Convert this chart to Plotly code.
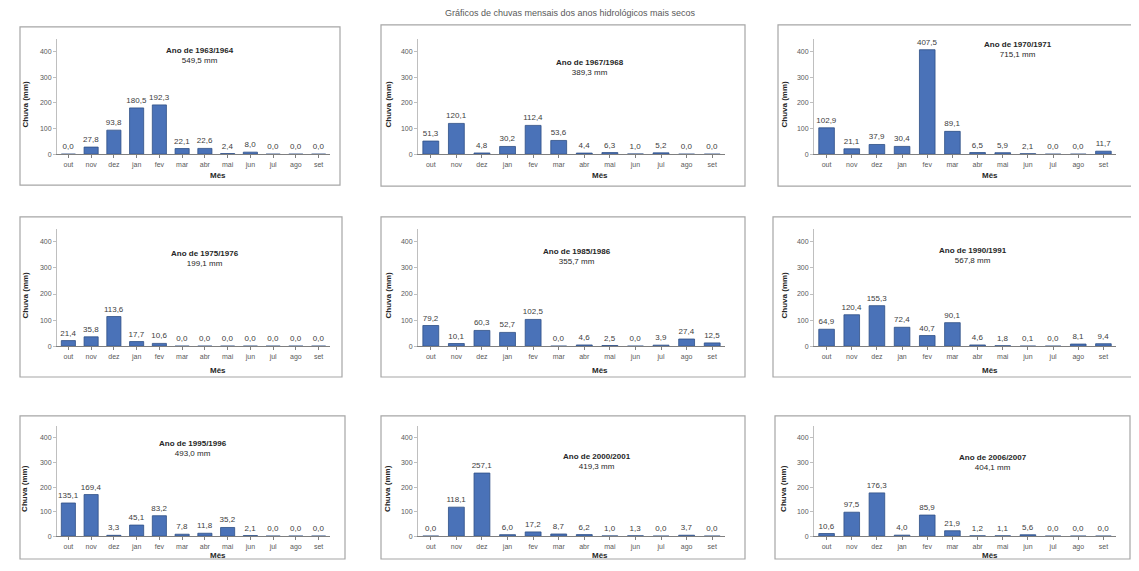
import plotly.graph_objects as go
from plotly.subplots import make_subplots

months = ["out", "nov", "dez", "jan", "fev", "mar", "abr", "mai", "jun", "jul", "ago", "set"]
years = ["1963/1964", "1967/1968", "1970/1971", "1975/1976", "1985/1986",
         "1990/1991", "1995/1996", "2000/2001", "2006/2007"]

p1 = [0, 27.8, 93.8, 180.5, 192.3, 22.1, 22.6, 2.4, 8.0, 0, 0, 0]
p2 = [51.3, 120.1, 4.8, 30.2, 112.4, 53.6, 4.4, 6.3, 1.0, 5.2, 0, 0]
p3 = [102.9, 21.1, 37.9, 30.4, 407.5, 89.1, 6.5, 5.9, 2.1, 0, 0, 11.7]
p4 = [21.4, 35.8, 113.6, 17.7, 10.6, 0, 0, 0, 0, 0, 0, 0]
p5 = [79.2, 10.1, 60.3, 52.7, 102.5, 0, 4.6, 2.5, 0, 3.9, 27.4, 12.5]
p6 = [64.9, 120.4, 155.3, 72.4, 40.7, 90.1, 4.6, 1.8, 0.1, 0, 8.1, 9.4]
p7 = [135.1, 169.4, 3.3, 45.1, 83.2, 7.8, 11.8, 35.2, 2.1, 0, 0, 0]
p8 = [0, 118.1, 257.1, 6.0, 17.2, 8.7, 6.2, 1.0, 1.3, 0, 3.7, 0]
p9 = [10.6, 97.5, 176.3, 4.0, 85.9, 21.9, 1.2, 1.1, 5.6, 0, 0, 0]
series = [p1, p2, p3, p4, p5, p6, p7, p8, p9]

# page offset (default body margin of the html page)
OFF = 8
W, H = 1139 - 2 * OFF, 571 - 2 * OFF
FONT = "Liberation Sans"
BAR = "#4a72b8"

# pixel layout (page coordinates)
col_x = [(57, 330), (418, 725), (814, 1116)]
row_y = [(39, 155), (230, 348), (428, 539)]
frames = [
    [(20, 27, 340, 186), (381, 25, 745, 187), (778, 25, 1132, 187)],
    [(20, 218, 342, 379), (381, 218, 745, 379), (773, 218, 1132, 379)],
    [(20, 418, 345, 562), (381, 418, 745, 562), (775, 418, 1130, 562)],
]
title_pos = [
    [(200, 56), (590, 68), (1018, 50)],
    [(205, 260), (577, 258), (973, 257)],
    [(193, 451), (597, 464), (993, 465)],
]
xlab_pos = [218, 600, 990]
xlab_y = [176, 372, 558]
ytitle_x = [25, 388, 784]

fig = make_subplots(rows=3, cols=3)

def px(x):
    return (x - OFF) / W

def py(y):
    return 1 - (y - OFF) / H

xcat = list(range(12))
for i, vals in enumerate(series):
    r, c = divmod(i, 3)
    fig.add_trace(
        go.Bar(
            x=xcat, y=vals, marker=dict(color=BAR, line=dict(color="#2f4f85", width=0.8)),
            width=0.62, text=vals, texttemplate="%{y:.1f}", textposition="outside",
            constraintext="none",
            textfont=dict(size=8, color="#404040", family=FONT), cliponaxis=False,
            showlegend=False,
        ),
        row=r + 1, col=c + 1,
    )
    n = "" if i == 0 else str(i + 1)
    x0, x1 = col_x[c]
    y0, y1 = row_y[r]
    fig.layout["xaxis" + n].update(
        domain=[px(x0), px(x1)], range=[-0.5, 11.5], tickvals=xcat, ticktext=months,
        showline=True, linecolor="#7f7f7f", linewidth=1, ticks="outside", ticklen=3,
        tickcolor="#7f7f7f", tickfont=dict(size=7, color="#595959", family=FONT),
        showgrid=False, zeroline=False, fixedrange=True,
    )
    fig.layout["yaxis" + n].update(
        domain=[py(y1), py(y0)], range=[0, 450], tickvals=[0, 100, 200, 300, 400],
        showline=True, linecolor="#bfbfbf", linewidth=1, ticks="outside", ticklen=3,
        tickcolor="#bfbfbf", tickfont=dict(size=7, color="#595959", family=FONT),
        showgrid=False, zeroline=False, fixedrange=True,
    )
    fx0, fy0, fx1, fy1 = frames[r][c]
    fig.add_shape(type="rect", xref="paper", yref="paper",
                  x0=px(fx0), x1=px(fx1), y0=py(fy1), y1=py(fy0),
                  line=dict(color="#a6a6a6", width=1.2), fillcolor="rgba(0,0,0,0)", layer="below")
    tx, ty = title_pos[r][c]
    total = sum(vals)
    tot_txt = f"{total:.1f}".replace(".", ",")
    fig.add_annotation(xref="paper", yref="paper", x=px(tx), y=py(ty), showarrow=False,
                       text=f"<b>Ano de {years[i]}</b><br>{tot_txt} mm",
                       font=dict(size=8, color="#262626", family=FONT),
                       xanchor="center", yanchor="middle", align="center")
    fig.add_annotation(xref="paper", yref="paper", x=px(xlab_pos[c]), y=py(xlab_y[r]),
                       showarrow=False, text="<b>Mês</b>", xanchor="center", yanchor="middle",
                       font=dict(size=8, color="#262626", family=FONT))
    fig.add_annotation(xref="paper", yref="paper", x=px(ytitle_x[c]), y=py((y0 + y1) / 2 + 8),
                       showarrow=False, text="<b>Chuva (mm)</b>", textangle=-90,
                       xanchor="center", yanchor="middle",
                       font=dict(size=8, color="#262626", family=FONT))

fig.add_annotation(xref="paper", yref="paper", x=px(570), y=py(13), showarrow=False,
                   xanchor="center", yanchor="middle",
                   text="Gráficos de chuvas mensais dos anos hidrológicos mais secos",
                   font=dict(size=9, color="#595959", family=FONT))

fig.update_layout(
    width=W, height=H, margin=dict(l=0, r=0, t=0, b=0),
    paper_bgcolor="white", plot_bgcolor="white", separators=",.",
    bargap=0.38, font=dict(family=FONT),
)

fig.write_html("out.html")
